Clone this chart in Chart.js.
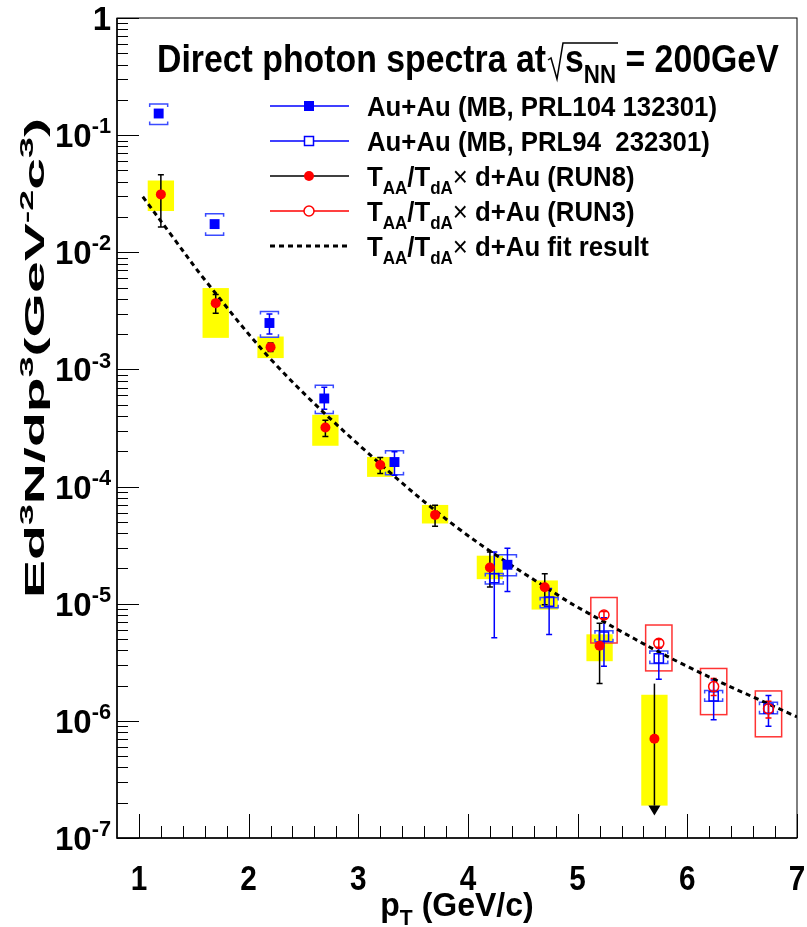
<!DOCTYPE html>
<html>
<head>
<meta charset="utf-8">
<script src="https://cdn.jsdelivr.net/npm/chart.js@4.4.1/dist/chart.umd.min.js"></script>
<style>
  html, body { margin: 0; padding: 0; background: #fff; }
  canvas { display: block; }
</style>
</head>
<body>
<canvas id="spectra" width="807" height="927"></canvas>
<script>
// ---- values ----
// T_AA/T_dA x d+Au (RUN8), last point is an upper limit
const run8X = [1.2, 1.7, 2.2, 2.7, 3.2, 3.7, 4.2, 4.7, 5.2, 5.7];
const run8Y = [0.0312, 3.68e-3, 1.55e-3, 3.19e-4, 1.53e-4, 5.73e-5, 2.04e-5, 1.38e-5, 4.38e-6, 7.03e-7];
const run8StatHi = [4.58e-2, 4.37e-3, 1.68e-3, 3.68e-4, 1.77e-4, 6.94e-5, 2.76e-5, 1.80e-5, 6.80e-6, 2.08e-6];
const run8StatLo = [1.64e-2, 3.02e-3, 1.42e-3, 2.68e-4, 1.29e-4, 4.59e-5, 1.39e-5, 9.78e-6, 2.08e-6, 1.89e-7];
const run8SysHi = [4.10e-2, 4.95e-3, 1.91e-3, 4.10e-4, 1.79e-4, 6.97e-5, 2.57e-5, 1.58e-5, 5.48e-6, 1.67e-6];
const run8SysLo = [2.25e-2, 1.86e-3, 1.25e-3, 2.23e-4, 1.21e-4, 4.84e-5, 1.62e-5, 8.91e-6, 3.23e-6, 1.89e-7];
const run8Limit = [false, false, false, false, false, false, false, false, false, true];

// Au+Au (MB, PRL104 132301)
const prl104X = [1.18, 1.69, 2.19, 2.69, 3.33, 4.36];
const prl104Y = [0.153, 0.0174, 2.49e-3, 5.65e-4, 1.62e-4, 2.15e-5];
const prl104StatHi = [0.16, 0.0185, 2.98e-3, 7.03e-4, 1.98e-4, 2.98e-5];
const prl104StatLo = [0.145, 0.0161, 2.01e-3, 4.58e-4, 1.25e-4, 1.27e-5];
const prl104SysHi = [0.184, 0.0213, 3.12e-3, 7.34e-4, 2.02e-4, 2.62e-5];
const prl104SysLo = [0.123, 0.014, 1.88e-3, 4.2e-4, 1.26e-4, 1.73e-5];

// Au+Au (MB, PRL94 232301)
const prl94X = [4.24, 4.74, 5.24, 5.74, 6.24, 6.74];
const prl94Y = [1.65e-5, 1.04e-5, 5.23e-6, 3.41e-6, 1.62e-6, 1.27e-6];
const prl94StatHi = [2.76e-5, 1.35e-5, 7.59e-6, 4.16e-6, 2.23e-6, 1.65e-6];
const prl94StatLo = [5.13e-6, 5.47e-6, 2.93e-6, 2.27e-6, 1.02e-6, 8.98e-7];
const prl94SysHi = [1.81e-5, 1.13e-5, 5.89e-6, 3.94e-6, 1.82e-6, 1.44e-6];
const prl94SysLo = [1.47e-5, 9.26e-6, 4.74e-6, 3.09e-6, 1.47e-6, 1.15e-6];

// T_AA/T_dA x d+Au (RUN3)
const run3X = [5.24, 5.74, 6.24, 6.74];
const run3Y = [8.01e-6, 4.59e-6, 1.96e-6, 1.27e-6];
const run3StatHi = [8.6e-6, 4.95e-6, 2.3e-6, 1.47e-6];
const run3StatLo = [7.45e-6, 4.25e-6, 1.65e-6, 1.06e-6];
const run3SysHi = [1.13e-5, 6.58e-6, 2.8e-6, 1.8e-6];
const run3SysLo = [4.62e-6, 2.67e-6, 1.13e-6, 7.31e-7];

// fit curve
const fitX = [1.035, 1.307, 1.609, 2.228, 2.999, 3.905, 4.84, 5.10, 5.945, 7.0];
const fitY = [0.0298, 0.01355, 5.69e-3, 1.15e-3, 2.3e-4, 4.44e-5, 1.15e-5, 8.28e-6, 3.09e-6, 1.08e-6];

// axes
const xTickValues = [1, 2, 3, 4, 5, 6, 7];
const yDecadeExps = [0, -1, -2, -3, -4, -5, -6, -7];

const FONT = '"Liberation Sans", Arial, Helvetica, sans-serif';
const BLUE = '#0000ff';
const BRACKET = '#3a4bff';
const RED = '#ff0000';
const BOX_HALF = 0.12;

const pts = (xs, ys) => xs.map((v, i) => ({ x: v, y: ys[i] }));

// pieces: [text, kind] with kind '' | '^' | '_' | 'x'
function richSpecs(ctx, parts, size) {
  return parts.map(([t, k]) => {
    const s = (k === '^' || k === '_') ? size * 0.66 : size;
    const w = k === 'x' ? 'normal' : 'bold';
    const dy = k === '^' ? -size * 0.42 : k === '_' ? size * 0.28 : 0;
    ctx.font = `${w} ${s}px ${FONT}`;
    return { t, font: ctx.font, dy, w: ctx.measureText(t).width };
  });
}

function richWidth(ctx, parts, size) {
  return richSpecs(ctx, parts, size).reduce((a, s) => a + s.w, 0);
}

function drawRich(ctx, parts, x, y, size, align, sx) {
  sx = sx || 1;
  const specs = richSpecs(ctx, parts, size);
  const total = specs.reduce((a, s) => a + s.w, 0);
  let cx = align === 'center' ? -total / 2 : align === 'right' ? -total : 0;
  ctx.save();
  ctx.translate(x, y);
  ctx.scale(sx, 1);
  ctx.textAlign = 'left';
  ctx.textBaseline = 'alphabetic';
  specs.forEach(s => {
    ctx.font = s.font;
    ctx.fillText(s.t, cx, s.dy);
    cx += s.w;
  });
  ctx.restore();
  return x + cx * sx;
}

const legendItems = [
  { label: [['Au+Au (MB, PRL104 132301)', '']], line: BLUE, marker: 'fillSq' },
  { label: [['Au+Au (MB, PRL94  232301)', '']], line: BLUE, marker: 'openSq' },
  { label: [['T', ''], ['AA', '_'], ['/T', ''], ['dA', '_'], ['\u00d7', 'x'], [' d+Au (RUN8)', '']], line: '#000', marker: 'fillCirc' },
  { label: [['T', ''], ['AA', '_'], ['/T', ''], ['dA', '_'], ['\u00d7', 'x'], [' d+Au (RUN3)', '']], line: RED, marker: 'openCirc' },
  { label: [['T', ''], ['AA', '_'], ['/T', ''], ['dA', '_'], ['\u00d7', 'x'], [' d+Au fit result', '']], line: '#000', marker: 'dash' }
];

function vbar(ctx, px, y0, y1, cap) {
  ctx.beginPath();
  ctx.moveTo(px, y0); ctx.lineTo(px, y1);
  if (cap) {
    ctx.moveTo(px - cap, y0); ctx.lineTo(px + cap, y0);
    ctx.moveTo(px - cap, y1); ctx.lineTo(px + cap, y1);
  }
  ctx.stroke();
}

function bracket(ctx, px, yTop, yBot, half, end) {
  ctx.beginPath();
  ctx.moveTo(px - half, yTop + end); ctx.lineTo(px - half, yTop); ctx.lineTo(px + half, yTop); ctx.lineTo(px + half, yTop + end);
  ctx.moveTo(px - half, yBot - end); ctx.lineTo(px - half, yBot); ctx.lineTo(px + half, yBot); ctx.lineTo(px + half, yBot - end);
  ctx.stroke();
}

const decor = {
  id: 'decor',
  beforeDatasetsDraw(chart) {
    const { ctx, scales: { x, y } } = chart;
    ctx.save();
    // RUN8 systematic boxes
    ctx.fillStyle = '#ffff00';
    run8X.forEach((v, i) => {
      const x0 = x.getPixelForValue(v - BOX_HALF), x1 = x.getPixelForValue(v + BOX_HALF);
      const y0 = y.getPixelForValue(run8SysHi[i]), y1 = y.getPixelForValue(run8SysLo[i]);
      ctx.fillRect(x0, y0, x1 - x0, y1 - y0);
    });
    // RUN3 systematic boxes
    ctx.strokeStyle = '#ff3333';
    ctx.lineWidth = 1.5;
    run3X.forEach((v, i) => {
      const x0 = x.getPixelForValue(v - BOX_HALF), x1 = x.getPixelForValue(v + BOX_HALF);
      const y0 = y.getPixelForValue(run3SysHi[i]), y1 = y.getPixelForValue(run3SysLo[i]);
      ctx.strokeRect(x0, y0, x1 - x0, y1 - y0);
    });
    // Au+Au systematic brackets
    ctx.strokeStyle = BRACKET;
    prl104X.forEach((v, i) => bracket(ctx, x.getPixelForValue(v), y.getPixelForValue(prl104SysHi[i]), y.getPixelForValue(prl104SysLo[i]), 9, 3));
    prl94X.forEach((v, i) => bracket(ctx, x.getPixelForValue(v), y.getPixelForValue(prl94SysHi[i]), y.getPixelForValue(prl94SysLo[i]), 9, 3));
    // stat errors
    ctx.strokeStyle = BLUE;
    prl104X.forEach((v, i) => vbar(ctx, x.getPixelForValue(v), y.getPixelForValue(prl104StatHi[i]), y.getPixelForValue(prl104StatLo[i]), 3));
    prl94X.forEach((v, i) => vbar(ctx, x.getPixelForValue(v), y.getPixelForValue(prl94StatHi[i]), y.getPixelForValue(prl94StatLo[i]), 3));
    ctx.strokeStyle = RED;
    run3X.forEach((v, i) => vbar(ctx, x.getPixelForValue(v), y.getPixelForValue(run3StatHi[i]), y.getPixelForValue(run3StatLo[i]), 3));
    ctx.strokeStyle = '#000';
    ctx.fillStyle = '#000';
    run8X.forEach((v, i) => {
      const px = x.getPixelForValue(v);
      const y0 = y.getPixelForValue(run8StatHi[i]), y1 = y.getPixelForValue(run8StatLo[i]);
      if (run8Limit[i]) {
        vbar(ctx, px, y0, y1, 0);
        ctx.beginPath();
        ctx.moveTo(px - 6, y1); ctx.lineTo(px + 6, y1); ctx.lineTo(px, y1 + 10);
        ctx.closePath();
        ctx.fill();
      } else {
        vbar(ctx, px, y0, y1, 3);
      }
    });
    ctx.restore();
  },
  afterDraw(chart) {
    const { ctx, chartArea: a, scales: { x, y } } = chart;
    ctx.save();
    ctx.strokeStyle = '#000';
    ctx.fillStyle = '#000';
    // frame
    ctx.lineWidth = 1;
    ctx.strokeRect(a.left, a.top, a.right - a.left, a.bottom - a.top);
    ctx.lineWidth = 1.5;
    ctx.beginPath();
    ctx.moveTo(a.left, a.top); ctx.lineTo(a.left, a.bottom); ctx.lineTo(a.right, a.bottom);
    ctx.stroke();
    // y ticks
    ctx.lineWidth = 1;
    ctx.beginPath();
    yDecadeExps.forEach(e => {
      const py = Math.round(y.getPixelForValue(Math.pow(10, e))) + 0.5;
      ctx.moveTo(a.left, py); ctx.lineTo(a.left + 22, py);
      if (e < 0) {
        for (let k = 2; k <= 9; k++) {
          const my = Math.round(y.getPixelForValue(k * Math.pow(10, e))) + 0.5;
          ctx.moveTo(a.left, my); ctx.lineTo(a.left + 11, my);
        }
      }
    });
    // x ticks
    for (let v = 1.0; v <= 7.0001; v += 0.2) {
      const px = Math.round(x.getPixelForValue(v)) + 0.5;
      const major = Math.abs(v - Math.round(v)) < 1e-6;
      ctx.moveTo(px, a.bottom); ctx.lineTo(px, a.bottom - (major ? 24 : 12));
    }
    ctx.stroke();

    // tick labels
    yDecadeExps.forEach(e => {
      const py = y.getPixelForValue(Math.pow(10, e));
      const parts = e === 0 ? [['1', '']] : [['10', ''], [String(e), '^']];
      drawRich(ctx, parts, 111, py + 12, 33, 'right', 1.0);
    });
    xTickValues.forEach(v => {
      drawRich(ctx, [[String(v), '']], x.getPixelForValue(v), 890, 35, 'center', 0.85);
    });

    // axis titles
    drawRich(ctx, [['p', ''], ['T', '_'], [' (GeV/c)', '']], (a.left + a.right) / 2, 916, 33, 'center', 0.97);
    const yTitle = [['Ed', ''], ['3', '^'], ['N/dp', ''], ['3', '^'], ['(GeV', ''], ['-2', '^'], ['c', ''], ['3', '^'], [')', '']];
    const ySize = 27;
    ctx.save();
    ctx.translate(44, 358);
    ctx.rotate(-Math.PI / 2);
    drawRich(ctx, yTitle, 0, 0, ySize, 'center', 480 / richWidth(ctx, yTitle, ySize));
    ctx.restore();

    // title with square root
    const tsx = 0.89, tsz = 38, base = 72;
    let xe = drawRich(ctx, [['Direct photon spectra at', '']], 157, base, tsz, 'left', tsx);
    const r0 = xe + 2;
    ctx.lineWidth = 1.5;
    ctx.beginPath();
    ctx.moveTo(r0, base - 12); ctx.lineTo(r0 + 3, base - 14);
    ctx.lineTo(r0 + 9, base + 7); ctx.lineTo(r0 + 15, base - 29);
    const sEnd = drawRich(ctx, [['s', ''], ['NN', '_']], r0 + 17, base, tsz, 'left', tsx);
    ctx.lineTo(sEnd + 2, base - 29);
    ctx.stroke();
    drawRich(ctx, [[' = 200GeV', '']], sEnd, base, tsz, 'left', tsx);

    // legend
    legendItems.forEach((it, i) => {
      const ly = 106 + i * 35;
      ctx.strokeStyle = it.line;
      ctx.setLineDash(it.marker === 'dash' ? [5, 4] : []);
      ctx.lineWidth = it.marker === 'dash' ? 3 : 1.5;
      ctx.beginPath();
      ctx.moveTo(270, ly); ctx.lineTo(349, ly);
      ctx.stroke();
      ctx.setLineDash([]);
      ctx.lineWidth = 1.5;
      if (it.marker === 'fillSq') { ctx.fillStyle = BLUE; ctx.fillRect(304, ly - 5, 10, 10); }
      if (it.marker === 'openSq') { ctx.fillStyle = '#fff'; ctx.fillRect(304, ly - 5, 10, 10); ctx.strokeStyle = BLUE; ctx.strokeRect(304.5, ly - 4.5, 9, 9); }
      if (it.marker === 'fillCirc') { ctx.fillStyle = RED; ctx.beginPath(); ctx.arc(309, ly, 5, 0, 2 * Math.PI); ctx.fill(); }
      if (it.marker === 'openCirc') { ctx.fillStyle = '#fff'; ctx.strokeStyle = RED; ctx.beginPath(); ctx.arc(309, ly, 5, 0, 2 * Math.PI); ctx.fill(); ctx.stroke(); }
      ctx.fillStyle = '#000';
      drawRich(ctx, it.label, 367, ly + 10, 28, 'left', 0.92);
    });
    ctx.restore();
  }
};

new Chart(document.getElementById('spectra'), {
  type: 'scatter',
  data: {
    datasets: [
      { label: 'RUN3', data: pts(run3X, run3Y), pointStyle: 'circle', pointRadius: 5, backgroundColor: 'rgba(0,0,0,0)', borderColor: RED, borderWidth: 1.5 },
      { label: 'RUN8', data: pts(run8X, run8Y), pointStyle: 'circle', pointRadius: 5, backgroundColor: RED, borderColor: RED, borderWidth: 0 },
      { label: 'PRL94', data: pts(prl94X, prl94Y), pointStyle: 'rect', pointRadius: 6.5, backgroundColor: 'rgba(0,0,0,0)', borderColor: BLUE, borderWidth: 1.5 },
      { label: 'PRL104', data: pts(prl104X, prl104Y), pointStyle: 'rect', pointRadius: 7, backgroundColor: BLUE, borderColor: BLUE, borderWidth: 0 },
      { label: 'fit', type: 'line', data: pts(fitX, fitY), showLine: true, borderColor: '#000', borderWidth: 3, borderDash: [5, 4], pointRadius: 0, tension: 0.35, fill: false }
    ]
  },
  options: {
    responsive: false,
    animation: false,
    events: [],
    layout: { padding: { top: 18, right: 10, left: 0, bottom: 0 } },
    scales: {
      x: {
        type: 'linear', min: 0.8, max: 7,
        grid: { display: false }, border: { display: false }, ticks: { display: false },
        afterFit: s => { s.height = 89; }
      },
      y: {
        type: 'logarithmic', min: 1e-7, max: 1,
        grid: { display: false }, border: { display: false }, ticks: { display: false },
        afterFit: s => { s.width = 117; }
      }
    },
    plugins: { legend: { display: false }, tooltip: { enabled: false } }
  },
  plugins: [decor]
});
</script>
</body>
</html>
